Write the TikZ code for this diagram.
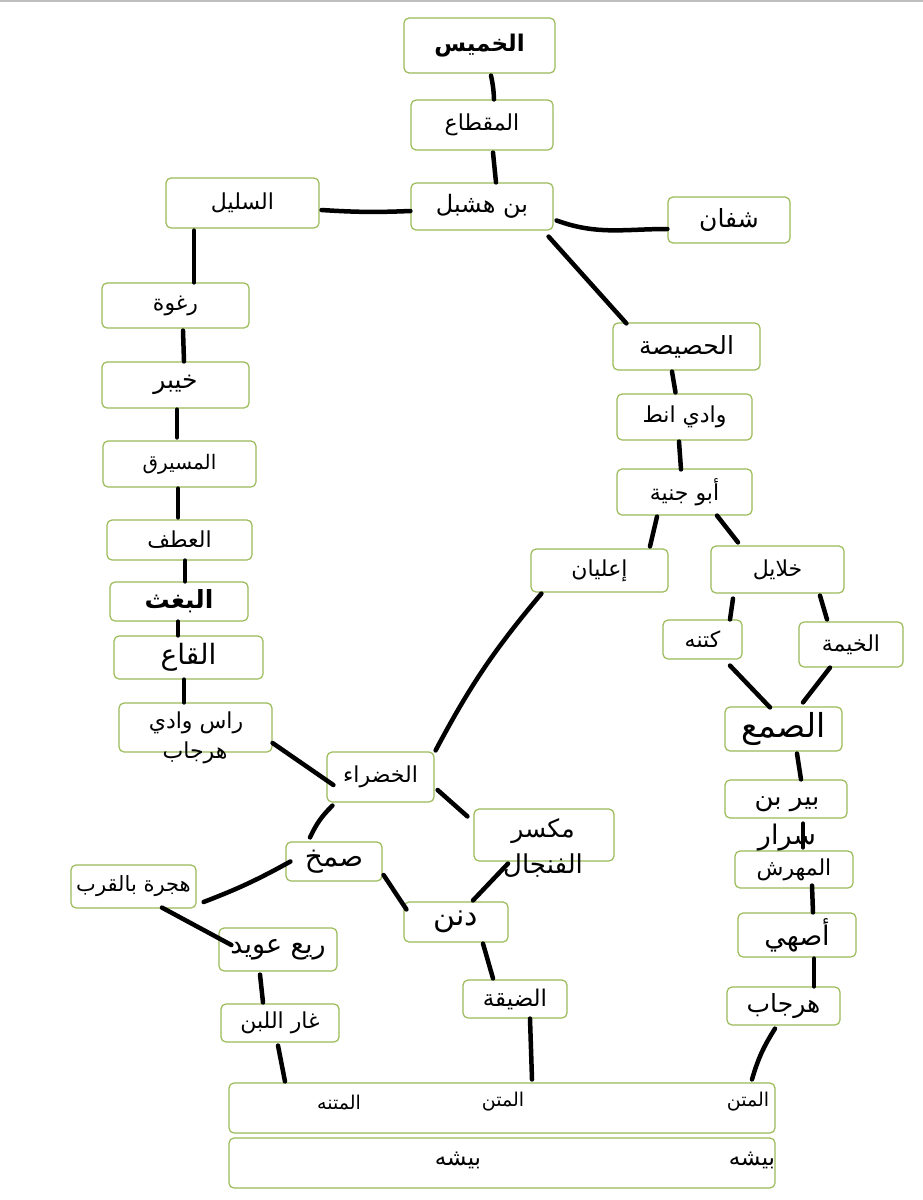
\documentclass[tikz,border=0pt]{standalone}
\usepackage{fontspec}
\usepackage{tikz}
\usetikzlibrary{calc}
\TeXXeTstate=1
\newfontfamily\arabicfont[Script=Arabic]{DejaVu Sans}
\definecolor{boxgreen}{RGB}{155,187,89}
\newcommand{\artxt}[1]{\beginR #1\endR}
\newcommand{\fsz}[1]{\fontsize{#1}{#1}\selectfont\arabicfont}

\tikzset{
  stop/.style={draw=boxgreen, line width=1.2pt, rounded corners=5pt, fill=white,
    inner sep=0pt, font=\fsz{22}},
  bigstop/.style={stop, font=\fsz{30}},
  boldstop/.style={stop, font=\fsz{23}\bfseries},
  word/.style={inner sep=0pt, font=\fsz{22}},
  road/.style={line width=4.5pt, line cap=round},
}

\begin{document}
\begin{tikzpicture}[x=1pt,y=-1pt]
\useasboundingbox (0,0) rectangle (923,1200);
\fill[white] (0,0) rectangle (923,1200);
\draw[black!25, line width=2pt] (0,1) -- (923,1);

% top spine
\node[boldstop, minimum width=151pt, minimum height=55pt] (khamis) at (479.5,45.5) {\artxt{الخميس}};
\node[stop, minimum width=142pt, minimum height=50pt] (maqta) at (482,125) {\artxt{المقطاع}};
\node[stop, minimum width=142pt, minimum height=47pt, font=\fsz{24}] (hashbal) at (482,206.5) {\artxt{بن هشبل}};
\node[stop, minimum width=153pt, minimum height=50pt] (salil) at (242.5,203) {\artxt{السليل}};
\node[stop, minimum width=122pt, minimum height=46pt, font=\fsz{25}] (shifan) at (729,220) {\artxt{شفان}};

% left column
\node[stop, minimum width=147pt, minimum height=45pt] (raghwa) at (175.5,305.5) {\artxt{رغوة}};
\node[stop, minimum width=147pt, minimum height=46pt, font=\fsz{25}] (khaybar) at (175.5,385) {\artxt{خيبر}};
\node[stop, minimum width=153pt, minimum height=46pt, font=\fsz{20}] (musayriq) at (179.5,464) {\artxt{المسيرق}};
\node[stop, minimum width=145pt, minimum height=40pt] (atf) at (179.5,540) {\artxt{العطف}};
\node[boldstop, minimum width=138pt, minimum height=39pt, font=\fsz{25}\bfseries] (baghth) at (179,601.5) {\artxt{البغث}};
\node[bigstop, minimum width=149pt, minimum height=43pt, font=\fsz{28}] (qaa) at (188.5,657.5) {\artxt{القاع}};
\node[stop, minimum width=153pt, minimum height=49pt] (ras) at (195.5,727.5) {};

% right column
\node[stop, minimum width=147pt, minimum height=47pt, font=\fsz{25}] (husaysa) at (686.5,346.5) {\artxt{الحصيصة}};
\node[stop, minimum width=135pt, minimum height=46pt] (wadi) at (684.5,417) {\artxt{وادي انط}};
\node[stop, minimum width=135pt, minimum height=46pt] (abu) at (684.5,492) {\artxt{أبو جنية}};
\node[stop, minimum width=137pt, minimum height=43pt] (alayan) at (599.5,570.5) {\artxt{إعليان}};
\node[stop, minimum width=133pt, minimum height=47pt] (khalayil) at (777.5,569.5) {\artxt{خلايل}};
\node[stop, minimum width=79pt, minimum height=39pt] (katna) at (702.5,639.5) {\artxt{كتنه}};
\node[stop, minimum width=104pt, minimum height=45pt] (khayma) at (851,644.5) {\artxt{الخيمة}};
\node[bigstop, minimum width=117pt, minimum height=44pt, font=\fsz{33}] (samaa) at (783.5,729) {\artxt{الصمع}};
\node[stop, minimum width=122pt, minimum height=38pt] (bir) at (786,799) {};
\node[stop, minimum width=118pt, minimum height=37pt] (mahrash) at (794,869.5) {\artxt{المهرش}};
\node[stop, minimum width=118pt, minimum height=44pt, font=\fsz{27}] (asahi) at (797,935) {\artxt{أصهي}};
\node[stop, minimum width=113pt, minimum height=38pt, font=\fsz{25}] (harjab) at (783.5,1006) {\artxt{هرجاب}};

% middle
\node[stop, minimum width=107pt, minimum height=50pt] (khadra) at (380.5,777) {\artxt{الخضراء}};
\node[stop, minimum width=140pt, minimum height=52pt] (miksar) at (544,835) {};
\node[stop, minimum width=96pt, minimum height=39pt, font=\fsz{28}] (samkh) at (334,861.5) {\artxt{صمخ}};
\node[stop, minimum width=125pt, minimum height=43pt, font=\fsz{21}] (hijra) at (133.5,886.5) {\artxt{هجرة بالقرب}};
\node[bigstop, minimum width=104pt, minimum height=40pt] (dunan) at (456,922) {\artxt{دنن}};
\node[stop, minimum width=118pt, minimum height=43pt, font=\fsz{27}] (rabi) at (278,949.5) {\artxt{ريع عويد}};
\node[stop, minimum width=118pt, minimum height=38pt] (ghar) at (280,1023) {\artxt{غار اللبن}};
\node[stop, minimum width=104pt, minimum height=38pt, font=\fsz{23}] (dayqa) at (515,999) {\artxt{الضيقة}};

% bottom bands
\node[stop, minimum width=546pt, minimum height=50pt] (matn) at (502,1108) {};
\node[stop, minimum width=546pt, minimum height=50pt] (bisha) at (502,1163) {};

% connectors
\draw[road] ($(khamis.south)+(11.5,2)$) to[bend left=5] ($(maqta.north)+(12,0)$);
\draw[road] ($(maqta.south)+(11,2)$) -- ($(hashbal.north)+(14,0)$);
\draw[road] ($(salil.east)+(2,7)$) to[bend right=3] ($(hashbal.west)+(0,4.5)$);
\draw[road] ($(hashbal.east)+(3,14)$) to[out=-20,in=180] ($(shifan.west)+(0,9)$);
\draw[road] ($(hashbal.south east)+(-5,6)$) -- ($(husaysa.north west)+(14,1)$);
\draw[road] ($(husaysa.south)+(-14.5,1)$) -- ($(wadi.north)+(-9,-1)$);
\draw[road] ($(wadi.south)+(-5.5,1)$) -- ($(abu.north)+(-3.5,1)$);
\draw[road] ($(abu.south)+(-27.5,1)$) -- ($(alayan.north)+(50.5,-2)$);
\draw[road] ($(abu.south)+(32.5,0)$) -- ($(khalayil.north)+(-39.5,-3)$);
\draw[road] ($(khalayil.south)+(-44.5,5)$) -- ($(katna.north)+(27.5,0)$);
\draw[road] ($(khalayil.south)+(42.5,2)$) -- ($(khayma.north)+(-24,-2)$);
\draw[road] ($(katna.south)+(27.5,6)$) -- ($(samaa.north)+(-13.5,1)$);
\draw[road] ($(khayma.south)+(-21,0)$) -- ($(samaa.north)+(19.5,-4)$);
\draw[road] ($(samaa.south)+(13.5,2)$) -- ($(bir.north)+(15,0)$);
\draw[road] ($(bir.south)+(17,5)$) -- ($(mahrash.north)+(9,-3)$);
\draw[road] ($(mahrash.south)+(18,-3)$) -- ($(asahi.north)+(16,0)$);
\draw[road] ($(asahi.south)+(17,1)$) -- ($(harjab.north)+(30.5,0)$);
\draw[road] ($(harjab.south)+(-8.5,3)$) to[bend right=8] ($(matn.north)+(250,-3)$);
\draw[road] ($(dayqa.south)+(15,0)$) -- ($(matn.north)+(30,-3)$);
\draw[road] ($(ghar.south)+(-2,3)$) -- ($(matn.north)+(-217,-1)$);
\draw[road] ($(ras.east)+(0,15.5)$) -- ($(khadra.west)+(7,8)$);
\draw[road] ($(alayan.south west)+(11,1)$) to[bend right=6] ($(khadra.north east)+(1,-1)$);
\draw[road] ($(khadra.east)+(3,13)$) -- ($(miksar.north west)+(-6,8)$);
\draw[road] ($(khadra.south west)+(6,3)$) to[bend right=10] ($(samkh.north)+(-24,-4)$);
\draw[road] ($(samkh.west)+(5,0)$) to[bend left=4] ($(hijra.east)+(7,15.5)$);
\draw[road] ($(samkh.east)+(1,13.5)$) -- ($(dunan.north west)+(3,8)$);
\draw[road] ($(miksar.south)+(-36,2)$) -- ($(dunan.north)+(17,-1)$);
\draw[road] ($(hijra.south)+(28.5,-1)$) -- ($(rabi.west)+(13,-4.5)$);
\draw[road] ($(rabi.south)+(-18,3)$) -- ($(ghar.north)+(-17,-1)$);
\draw[road] ($(dunan.south)+(27,1)$) -- ($(dayqa.north)+(-22,-1)$);
\draw[road] ($(salil.south)+(-48.5,2)$) -- ($(raghwa.north)+(18.5,0)$);
\draw[road] ($(raghwa.south)+(7.5,2)$) -- ($(khaybar.north)+(8.5,0)$);
\draw[road] ($(khaybar.south)+(1.5,1)$) -- ($(musayriq.north)+(-2.5,-3)$);
\draw[road] ($(musayriq.south)+(-1.5,1)$) -- ($(atf.north)+(-1.5,-2)$);
\draw[road] ($(atf.south)+(5.5,0)$) -- ($(baghth.north)+(6,0)$);
\draw[road] ($(baghth.south)+(-1,0)$) -- ($(qaa.north)+(-10.5,0)$);
\draw[road] ($(qaa.south)+(-4.5,0)$) -- ($(ras.north)+(-11.5,0)$);

% texts spilling out of their boxes
\node[word] (rasA) at (196,723) {\artxt{راس وادي}};
\node[word] (rasB) at (195,753) {\artxt{هرجاب}};
\node[word, font=\fsz{26}] (birA) at (787,804) {\artxt{بير بن}};
\node[word, font=\fsz{27}] (birB) at (787,838) {\artxt{سرار}};
\node[word, font=\fsz{25}] (miksarA) at (543,831) {\artxt{مكسر}};
\node[word, font=\fsz{26}] (miksarB) at (543,866) {\artxt{الفنجال}};

% texts of the bands
\node[word, font=\fsz{19}] (matnA) at (339,1102) {\artxt{المتنه}};
\node[word, font=\fsz{19}] (matnB) at (503,1102) {\artxt{المتن}};
\node[word, font=\fsz{19}] (matnC) at (748,1102) {\artxt{المتن}};
\node[word, font=\fsz{23}] (bishaA) at (458,1160) {\artxt{بيشه}};
\node[word, font=\fsz{23}] (bishaB) at (752,1160) {\artxt{بيشه}};
\end{tikzpicture}
\end{document}
